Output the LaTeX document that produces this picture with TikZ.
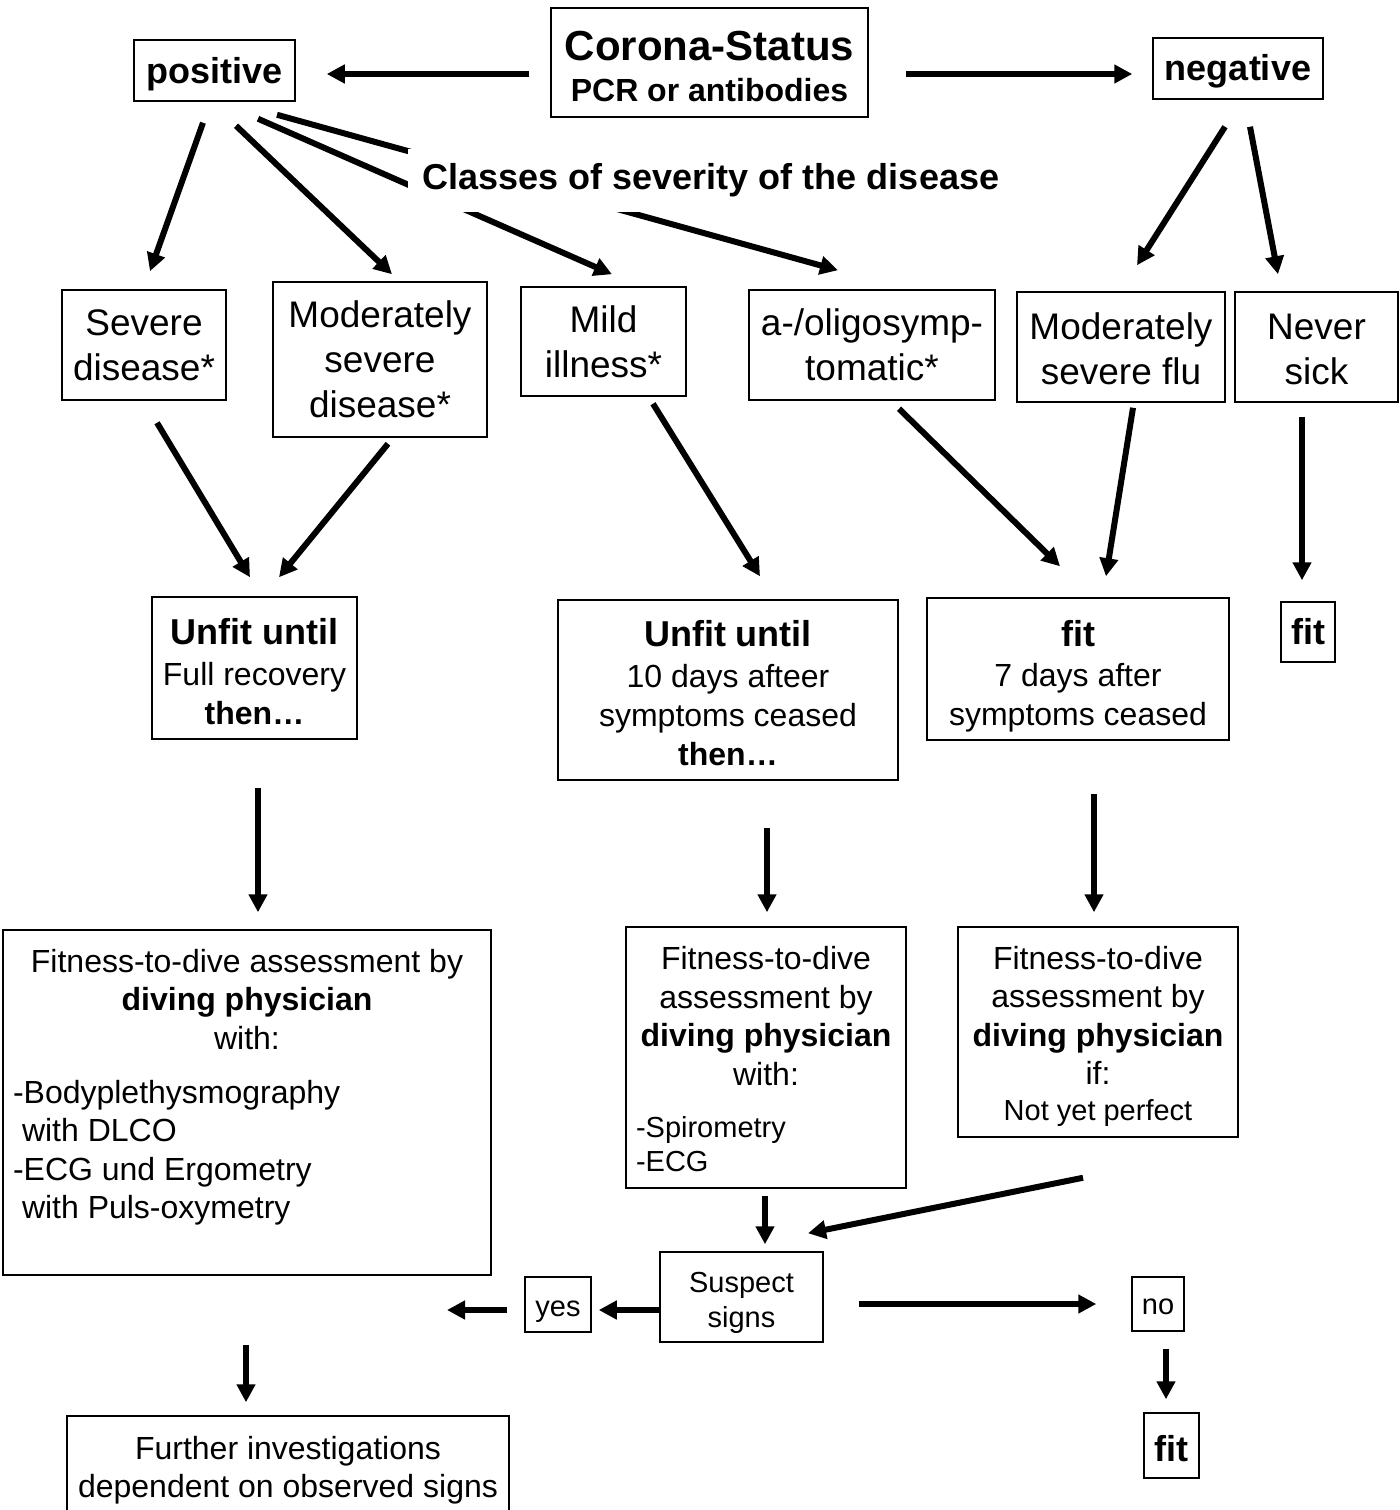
\documentclass[tikz,border=0pt]{standalone}
\usepackage{fontspec}
\setmainfont{Liberation Sans}
\usetikzlibrary{arrows.meta,calc}

\newcommand{\lift}[1]{\rule{0pt}{#1pt}}

\tikzset{
  box/.style={draw, line width=1.5pt, inner sep=0pt},
  big/.style={align=center, font=\bfseries\fontsize{36}{43}\selectfont},
  mid/.style={align=center, font=\fontsize{37}{45}\selectfont},
  txt/.style={align=center, font=\fontsize{32}{39}\selectfont},
  small/.style={align=center, font=\fontsize{29}{35}\selectfont},
  arr/.style={line width=6pt, -{Triangle[length=18pt,width=18pt]}},
}

\begin{document}
\begin{tikzpicture}[x=1pt,y=-1pt]
\useasboundingbox (0,0) rectangle (1400,1510);

\node [box, align=center, font=\bfseries\fontsize{32}{41}\selectfont, minimum width=317pt, minimum height=109pt] (corona) at (709.5,62.5) {{\fontsize{42}{41}\selectfont\lift{38}Corona-Status}\\PCR or antibodies};
\node [box, big, minimum width=161pt, minimum height=61pt] (pos) at (214.5,70.5) {\lift{34}positive};
\node [box, big, minimum width=170pt, minimum height=61pt] (neg) at (1238,68.5) {\lift{32}negative};

\node [box, mid, minimum width=164pt, minimum height=110pt] (sev) at (144,345) {Severe\\disease*};
\node [box, mid, minimum width=214pt, minimum height=155pt] (mod) at (380,359.5) {Moderately\\severe\\disease*};
\node [box, mid, minimum width=165pt, minimum height=109pt] (mild) at (603.5,341.5) {Mild\\illness*};
\node [box, mid, minimum width=246pt, minimum height=110pt] (oligo) at (872,345) {a-/oligosymp-\\tomatic*};
\node [box, mid, minimum width=208pt, minimum height=110pt] (flu) at (1121,347) {\lift{31}Moderately\\severe flu};
\node [box, mid, minimum width=163pt, minimum height=110pt] (never) at (1316.5,347) {\lift{31}Never\\sick};

\node [box, txt, minimum width=205pt, minimum height=142pt] (unfitA) at (254.5,668) {{\bfseries\fontsize{36}{39}\selectfont\lift{32.5}Unfit until}\\[2pt]Full recovery\\\textbf{then…}};
\node [box, txt, minimum width=340pt, minimum height=180pt] (unfitB) at (728,690) {{\bfseries\fontsize{36}{39}\selectfont\lift{32.5}Unfit until}\\[2pt]10 days afteer\\symptoms ceased\\\textbf{then…}};
\node [box, txt, minimum width=302pt, minimum height=142pt] (fitC) at (1078,669) {{\bfseries\fontsize{36}{39}\selectfont\lift{40}fit}\\[1pt]7 days after\\symptoms ceased};
\node [box, big, minimum width=54pt, minimum height=60pt] (fitD) at (1308,632) {fit};

\node [box, inner xsep=10pt, inner ysep=19pt] (diveA) at (247,1102.5) {\parbox[c][307pt][t]{468pt}{\fontsize{32}{38.5}\selectfont\centering Fitness-to-dive assessment by\\\textbf{diving physician}\\with:\par\vspace{15.5pt}\raggedright -Bodyplethysmography\\\hspace*{9pt}with DLCO\\-ECG und Ergometry\\\hspace*{9pt}with Puls-oxymetry\par}};
\node [box, inner xsep=10pt, minimum width=280pt, minimum height=261pt] (diveB) at (766,1057.5) {\parbox{260pt}{\fontsize{32}{38.5}\selectfont\centering\lift{27}Fitness-to-dive\\assessment by\\\textbf{diving physician}\\with:\par\vspace{18.5pt}\fontsize{29}{34}\selectfont\raggedright -Spirometry\\-ECG\par}};
\node [box, align=center, font=\fontsize{32}{38.5}\selectfont, minimum width=280pt, minimum height=210pt] (diveC) at (1098,1032) {\lift{31.5}Fitness-to-dive\\assessment by\\\textbf{diving physician}\\if:\\[-3pt]{\fontsize{29}{35}\selectfont Not yet perfect}};

\node [box, small, minimum width=163pt, minimum height=90pt] (susp) at (741.5,1297) {\lift{31}Suspect\\signs};
\node [box, small, minimum width=66pt, minimum height=55pt] (yes) at (558,1304.5) {\lift{29}yes};
\node [box, small, minimum width=52pt, minimum height=54pt] (no) at (1158,1304) {\lift{21}no};
\node [box, big, minimum width=55pt, minimum height=65pt] (fitE) at (1171.5,1445.5) {\lift{32}fit};
\node [box, txt, minimum width=442pt, minimum height=102pt] (further) at (288,1467) {\lift{29.5}Further investigations\\[-1pt]dependent on observed signs};

\coordinate (yesEnd) at (447,1310);
\coordinate (furtherIn) at (246,1345);

\draw [arr] ($(corona.west)+(-21,11.5)$) -- ($(pos.east)+(31,3.5)$);
\draw [arr] ($(corona.east)+(37,11.5)$) -- ($(neg.west)+(-20,5.5)$);
\draw [arr] ($(pos.south)+(-11.5,21)$) -- ($(sev.north)+(6,-18)$);
\draw [arr] ($(pos.south)+(21.5,24)$) -- ($(mod.north)+(12,-7)$);
\draw [arr] ($(pos.south)+(43.5,17)$) -- ($(mild.north)+(8.5,-12)$);
\draw [arr] ($(pos.south)+(62.5,13)$) -- ($(oligo.north)+(-34,-19)$);
\draw [arr] ($(neg.south)+(-13,27)$) -- ($(flu.north)+(16,-26)$);
\draw [arr] ($(neg.south)+(12,27)$) -- ($(never.north)+(-38.5,-17)$);

\node [fill=white, inner xsep=15pt, minimum height=63pt, font=\bfseries\fontsize{36}{43}\selectfont] (classes) at (711,180) {Classes of severity of the disease};

\draw [arr] ($(sev.south)+(13,22)$) -- ($(unfitA.north)+(-4.5,-19)$);
\draw [arr] ($(mod.south)+(8,6)$) -- ($(unfitA.north)+(24.5,-19)$);
\draw [arr] ($(mild.south)+(49.5,7)$) -- ($(unfitB.north)+(32,-23)$);
\draw [arr] ($(oligo.south)+(27,8)$) -- ($(fitC.north)+(-18,-31)$);
\draw [arr] ($(flu.south)+(12,5)$) -- ($(fitC.north)+(28,-21)$);
\draw [arr] ($(never.south)+(-14.5,14)$) -- ($(fitD.north)+(-6,-21)$);

\draw [arr] ($(unfitA.south)+(3.5,48)$) -- ($(diveA.north)+(11,-17)$);
\draw [arr] ($(unfitB.south)+(39,47)$) -- ($(diveB.north)+(1,-14)$);
\draw [arr] ($(fitC.south)+(16,53)$) -- ($(diveC.north)+(-4,-14)$);

\draw [arr] ($(diveB.south)+(-1,7)$) -- ($(susp.north)+(23.5,-7)$);
\draw [arr] ($(diveC.south)+(-15,40)$) -- ($(susp.north)+(66.5,-18)$);
\draw [arr] ($(susp.west)+(0,13)$) -- ($(yes.east)+(7,5.5)$);
\draw [arr] ($(yes.west)+(-17,5.5)$) -- (yesEnd);
\draw [arr] (furtherIn) -- ($(further.north)+(-42,-13)$);
\draw [arr] ($(susp.east)+(35,7)$) -- ($(no.west)+(-35,0)$);
\draw [arr] ($(no.south)+(8,17)$) -- ($(fitE.north)+(-5.5,-13)$);
\end{tikzpicture}
\end{document}
